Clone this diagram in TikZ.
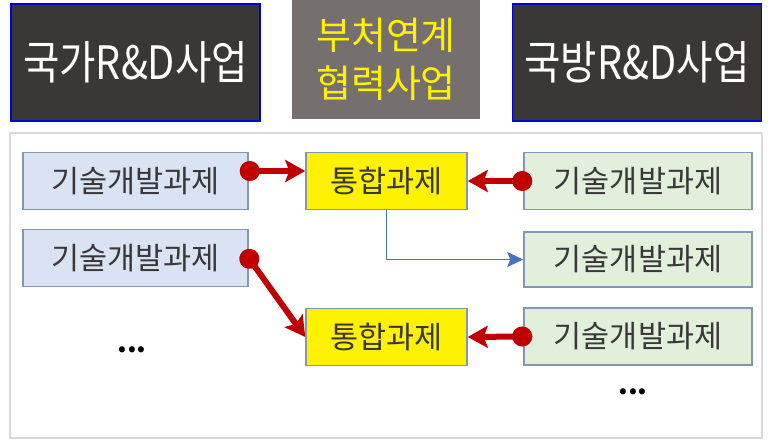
\documentclass[tikz,border=0pt]{standalone}
\usepackage{fontspec}
\setmainfont{Noto Sans CJK KR}
\newfontfamily\krn[FakeStretch=0.86]{Noto Sans CJK KR}
\usetikzlibrary{arrows.meta,positioning}
\definecolor{darkfill}{HTML}{3A3836}
\definecolor{midfill}{HTML}{75706E}
\definecolor{natfill}{HTML}{DAE3F3}
\definecolor{deffill}{HTML}{E2EFDA}
\definecolor{taskline}{HTML}{8497B0}
\definecolor{linkred}{HTML}{C00000}
\definecolor{linkblue}{HTML}{4472C4}
\tikzstyle{program} = [draw=blue!85!black,line width=1.8pt,fill=darkfill,text=white,rectangle,inner sep=0,minimum width=249pt,minimum height=117pt,font=\krn\fontsize{46}{50}\selectfont]
\tikzstyle{joint} = [fill=midfill,text=yellow,rectangle,inner sep=0,minimum width=188pt,minimum height=119pt,align=center,font=\fontsize{38}{48}\selectfont]
\tikzstyle{task} = [draw=taskline,line width=1.5pt,rectangle,inner sep=0,minimum height=57pt,text=black!78,font=\fontsize{30.5}{32}\selectfont]
\tikzstyle{pull} = [line width=6pt,draw=linkred,shorten <=-9pt,{Circle[length=20pt,fill=linkred]}-{Stealth[length=20pt,width=22pt,inset=4pt,fill=linkred]}]
\tikzstyle{handoff} = [line width=1.6pt,draw=linkblue,-{Stealth[length=16pt,width=15pt,inset=3pt,fill=linkblue]}]
\tikzstyle{more} = [font=\bfseries\fontsize{28}{28}\selectfont,inner sep=0]

\begin{document}
\begin{tikzpicture}[x=1pt,y=-1pt]
      \useasboundingbox (0,0) rectangle (769,445);
      \draw[draw=black!15,line width=2pt] (10,133) rectangle (762,438);
      % programs
      \node[program] (nat) at (135.5,62.5) {국가R\&D사업};
      \node[joint] (mid) at (386,59.5) {부처연계\\협력사업};
      \node[program] (def) at (637,62.5) {국방R\&D사업};
      % tasks
      \node[task,fill=natfill,minimum width=225pt] (n1) at (135.5,181) {기술개발과제};
      \node[task,fill=natfill,minimum width=225pt] (n2) at (135.5,258) {기술개발과제};
      \node[more] (ndots) at (132,350) {...};
      \node[task,fill=yellow,minimum width=161pt] (j1) at (386.5,181) {통합과제};
      \node[task,fill=yellow,minimum width=161pt] (j2) at (386.5,337) {통합과제};
      \node[task,fill=deffill,minimum width=228pt] (d1) at (638,181) {기술개발과제};
      \node[task,fill=deffill,minimum width=228pt,minimum height=55pt] (d2) at (638,259.5) {기술개발과제};
      \node[task,fill=deffill,minimum width=228pt] (d3) at (638,336.5) {기술개발과제};
      \node[more] (ddots) at (633,392) {...};
      % links
      \draw[pull] ([yshift=10pt]n1.east) -- ([yshift=10pt]j1.west);
      \draw[pull] (n2.east) -- (j2.west);
      \draw[pull] (d1.west) -- (j1.east);
      \draw[pull] (d3.west) -- (j2.east);
      \draw[handoff] (j1.south) |- (d2.west);
    \end{tikzpicture}
\end{document}
